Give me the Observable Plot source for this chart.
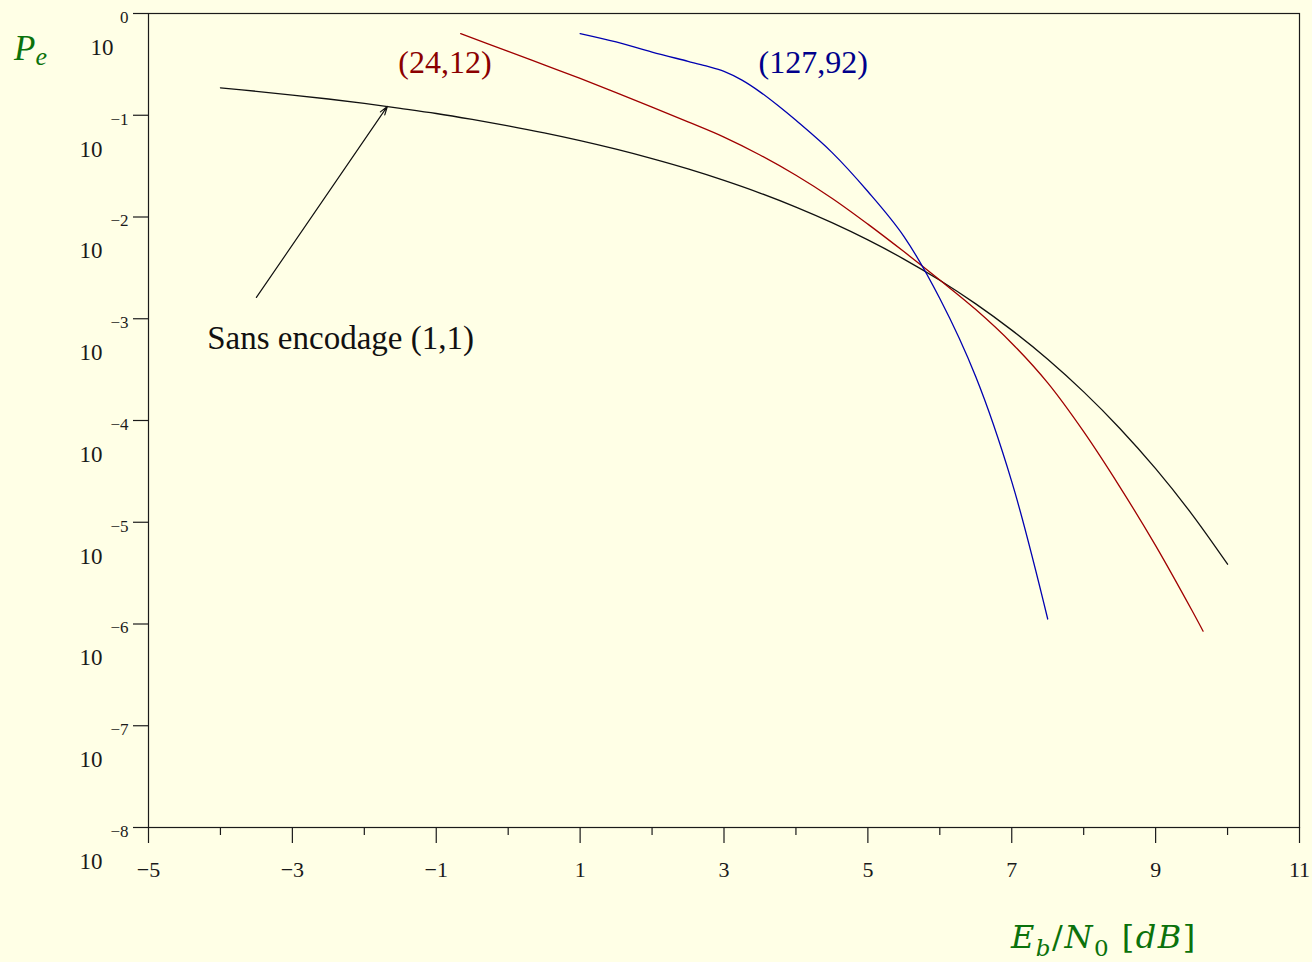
<!DOCTYPE html>
<html><head><meta charset="utf-8">
<script src="https://cdn.jsdelivr.net/npm/d3@7"></script>
<script src="https://cdn.jsdelivr.net/npm/@observablehq/plot@0.6"></script>
<style>
html,body{margin:0;padding:0;background:#ffffe6;}
#chart svg{display:block;}
</style></head><body><div id="chart"></div>
<script>
// Uncoded (1,1)
const blackX = [-4,-3.5,-3,-2.5,-2,-1.5,-1,-0.5,0,0.5,1,1.5,2,2.5,3,3.5,4,4.5,5,5.5,6,6.5,7,7.5,8,8.5,9,9.5,10];
const blackP = [0.186,0.172,0.158,0.1445,0.131,0.117,0.104,0.0909,0.0786,0.0671,0.0563,0.0464,0.0375,0.0297,0.0229,0.0172,0.0125,0.00879,0.00595,0.00386,0.00239,0.0014,0.000773,0.0004,0.000191,0.000084,0.0000336,0.0000121,0.00000387];
// (24,12)
const redX = [-0.66,0,0.5,1,1.5,2,2.5,3,3.5,4,4.5,5,5.5,6,6.5,7,7.5,8,8.5,9,9.5,9.66];
const redP = [0.635,0.4246,0.3126,0.2301,0.1667,0.1202,0.0861,0.0610,0.0407,0.0257,0.0153,0.00851,0.00457,0.0024,0.00123,0.000575,0.000234,0.0000776,0.0000224,0.00000589,0.00000138,0.00000085];
// (127,92)
const blueX = [1,1.5,2,2.5,2.75,3,3.25,3.5,3.75,4,4.5,5,5.5,6,6.5,7,7.5];
const blueP = [0.635,0.525,0.417,0.339,0.305,0.270,0.2213,0.1698,0.1245,0.0891,0.0432,0.0178,0.00646,0.00158,0.000269,0.0000251,0.00000112];

const seriesNames = ["(1,1)","(24,12)","(127,92)"];
const seriesColors = ["#111111","#a00000","#0000b0"];

const xMajorTicks = [-5,-3,-1,1,3,5,7,9,11];
const xMinorTicks = [-4,-2,0,2,4,6,8,10];
const yExponents = [0,-1,-2,-3,-4,-5,-6,-7,-8];

const labelTexts = ["(24,12)","(127,92)"];
const labelX = [-0.88,4.24];
const labelY = [0.33,0.33];
const labelColors = ["#8b0000","#00008b"];

const noteText = "Sans encodage (1,1)";
const noteX = -2.33, noteY = 0.00064;
const arrowFrom = [-3.5, 0.00162];
const arrowTo = [-1.68, 0.122];

const rows = [];
blackX.forEach((x,i)=>rows.push({x, p:blackP[i], s:seriesNames[0]}));
redX.forEach((x,i)=>rows.push({x, p:redP[i], s:seriesNames[1]}));
blueX.forEach((x,i)=>rows.push({x, p:blueP[i], s:seriesNames[2]}));

const minus = v => v < 0 ? "\u2212" + Math.abs(v) : String(v);
const labels = labelTexts.map((t,i)=>({t, x:labelX[i], y:labelY[i], c:labelColors[i]}));
const ink = "#1a1a1a";

const chart = Plot.plot({
  width: 1312, height: 962,
  marginLeft: 148, marginTop: 13, marginRight: 13, marginBottom: 135,
  style: {background: "#ffffe6", fontFamily: "Liberation Serif", color: ink, overflow: "visible"},
  x: {domain: [-5, 11], axis: null},
  y: {type: "log", domain: [1e-8, 1], axis: null},
  color: {domain: seriesNames, range: seriesColors},
  marks: [
    Plot.frame({stroke: ink, strokeWidth: 1.2}),
    Plot.axisX(xMinorTicks, {tickSize: 8, tickFormat: () => "", label: null, strokeWidth: 1.2}),
    Plot.axisX(xMajorTicks, {tickSize: 16, tickFormat: () => "", label: null, strokeWidth: 1.2}),
    Plot.axisY(yExponents.map(e => 10 ** e), {tickSize: 15, tickFormat: () => "", label: null, strokeWidth: 1.2}),
    Plot.text(xMajorTicks, {x: d => d, y: () => 1e-8, text: d => minus(d), dy: 42, fontSize: 22, fill: ink}),
    Plot.text(yExponents, {x: () => -5, y: e => 10 ** e, text: e => minus(e), textAnchor: "end", dx: -20, dy: 4, fontSize: 17, fill: ink}),
    Plot.text(yExponents, {filter: e => e === 0, x: () => -5, y: e => 10 ** e, text: () => "10", textAnchor: "end", dx: -35, dy: 34, fontSize: 23, fill: ink}),
    Plot.text(yExponents, {filter: e => e !== 0, x: () => -5, y: e => 10 ** e, text: () => "10", textAnchor: "end", dx: -46, dy: 34, fontSize: 23, fill: ink}),
    Plot.line(rows, {x: "x", y: "p", z: "s", stroke: "s", strokeWidth: 1.3, curve: "catmull-rom"}),
    Plot.arrow([{x1: arrowFrom[0], y1: arrowFrom[1], x2: arrowTo[0], y2: arrowTo[1]}], {x1: "x1", y1: "y1", x2: "x2", y2: "y2", stroke: "#111", strokeWidth: 1.2, headLength: 11, headAngle: 35}),
    Plot.text([noteText], {x: () => noteX, y: () => noteY, text: d => d, fontSize: 33, fill: "#111"}),
    Plot.text(labels, {x: "x", y: "y", text: "t", fill: "c", fontSize: 32})
  ]
});

document.getElementById("chart").appendChild(chart);

const svg = d3.select(chart);
const green = "#0b720b";
const pe = svg.append("text").attr("x", 14).attr("y", 60).attr("text-anchor", "start")
  .attr("font-family", "Liberation Serif").attr("font-size", 35).attr("fill", green).attr("font-style", "italic");
pe.append("tspan").text("P");
pe.append("tspan").attr("dy", 5).attr("font-size", 26).text("e");

const xl = svg.append("text").attr("x", 1011).attr("y", 948).attr("text-anchor", "start")
  .attr("font-family", "DejaVu Serif").attr("font-size", 32).attr("letter-spacing", 1.5).attr("fill", green);
xl.append("tspan").attr("font-style", "italic").text("E");
xl.append("tspan").attr("font-style", "italic").attr("dy", 8).attr("font-size", 23).text("b");
xl.append("tspan").attr("dy", -8).text("/");
xl.append("tspan").attr("font-style", "italic").text("N");
xl.append("tspan").attr("dy", 8).attr("font-size", 23).text("0");
xl.append("tspan").attr("dy", -8).text(" [");
xl.append("tspan").attr("font-style", "italic").text("dB");
xl.append("tspan").text("]");
</script></body></html>
